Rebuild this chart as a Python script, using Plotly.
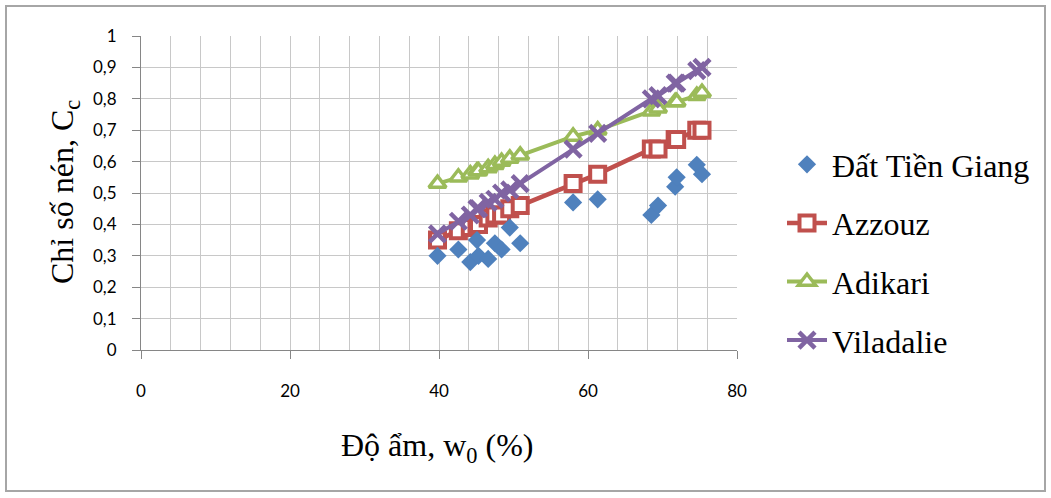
import plotly.graph_objects as go

# Moisture content w0 (%)
w0 = [39.8, 42.6, 44.2, 45.1, 45.3, 46.6, 47.5, 48.4, 49.5, 50.9,
      58.0, 61.3, 68.5, 69.4, 71.7, 71.9, 74.6, 75.3]

# Measured compression index (Đất Tiền Giang)
cc_tien_giang = [0.30, 0.32, 0.28, 0.35, 0.30, 0.29, 0.34, 0.32, 0.39, 0.34,
                 0.47, 0.48, 0.43, 0.46, 0.52, 0.55, 0.59, 0.56]
# Correlations
cc_azzouz = [0.35, 0.38, 0.39, 0.40, 0.40, 0.42, 0.43, 0.43, 0.45, 0.46,
             0.53, 0.56, 0.64, 0.64, 0.67, 0.67, 0.70, 0.70]
cc_adikari = [0.53, 0.55, 0.56, 0.57, 0.57, 0.58, 0.59, 0.60, 0.61, 0.62,
              0.68, 0.70, 0.76, 0.77, 0.79, 0.79, 0.81, 0.82]
cc_viladalie = [0.37, 0.41, 0.43, 0.45, 0.45, 0.47, 0.48, 0.50, 0.51, 0.53,
                0.64, 0.69, 0.80, 0.81, 0.85, 0.85, 0.89, 0.90]

series_names = ["Đất Tiền Giang", "Azzouz", "Adikari", "Viladalie"]
x_title = "Độ ẩm, w<sub>0</sub> (%)"
y_title = "Chỉ số nén, C<sub>c</sub>"

x_ticks = [0, 20, 40, 60, 80]
y_ticks = [0, 0.1, 0.2, 0.3, 0.4, 0.5, 0.6, 0.7, 0.8, 0.9, 1.0]
y_tick_text = ["0", "0,1", "0,2", "0,3", "0,4", "0,5", "0,6", "0,7", "0,8", "0,9", "1"]

BLUE, RED, GREEN, PURPLE = "#4F81BD", "#C0504D", "#9BBB59", "#8064A2"
SERIF = '"Liberation Serif", "Times New Roman", serif'
SANS = 'Lato, Carlito, Calibri, sans-serif'

fig = go.Figure()

fig.add_trace(go.Scatter(
    x=w0, y=cc_azzouz, name=series_names[1], mode="lines+markers",
    legendgroup="b", legendrank=2,
    line=dict(color=RED, width=4.5),
    marker=dict(symbol="square", size=15, color="white",
                line=dict(color=RED, width=4)),
))
fig.add_trace(go.Scatter(
    x=w0, y=cc_adikari, name=series_names[2], mode="lines+markers",
    legendgroup="c", legendrank=3,
    line=dict(color=GREEN, width=4),
    marker=dict(symbol="triangle-up", size=15, color="white",
                line=dict(color=GREEN, width=3.5)),
))
fig.add_trace(go.Scatter(
    x=w0, y=cc_viladalie, name=series_names[3], mode="lines+markers",
    legendgroup="d", legendrank=4,
    line=dict(color=PURPLE, width=4),
    marker=dict(symbol="x-thin", size=16, color=PURPLE,
                line=dict(color=PURPLE, width=4.5)),
))
fig.add_trace(go.Scatter(
    x=w0, y=cc_tien_giang, name=series_names[0], mode="markers",
    legendgroup="a", legendrank=1,
    marker=dict(symbol="diamond", size=14, color=BLUE, line=dict(width=0)),
))

L, R, T, B = 141, 737, 36, 350
W, H = 1051, 498
pw, ph = R - L, B - T

def px_to_paper_x(px):
    return (px - L) / pw

def px_to_paper_y(py):
    return (B - py) / ph

fig.update_layout(
    width=W, height=H,
    margin=dict(l=L, r=W - R, t=T, b=H - B, pad=0),
    paper_bgcolor="white", plot_bgcolor="white",
    showlegend=True,
    legend=dict(
        x=px_to_paper_x(782), y=px_to_paper_y(137),
        xanchor="left", yanchor="top",
        font=dict(family=SERIF, size=32, color="black"),
        tracegroupgap=14, itemwidth=40,
        bgcolor="rgba(0,0,0,0)",
    ),
    xaxis=dict(
        range=[0, 80], tickvals=x_ticks, ticktext=[str(v) for v in x_ticks],
        showgrid=False, zeroline=False,
        showline=True, linecolor="#868686", linewidth=1,
        ticks="outside", ticklen=8, tickcolor="#868686",
        ticklabelstandoff=18,
        tickfont=dict(family=SANS, size=17, color="black"),
        minor=dict(dtick=4, showgrid=True, gridcolor="#C8C8C8", gridwidth=1, ticks=""),
        fixedrange=True,
    ),
    yaxis=dict(
        range=[0, 1], tickvals=y_ticks, ticktext=y_tick_text,
        showgrid=True, gridcolor="#C8C8C8", gridwidth=1, zeroline=False,
        showline=True, linecolor="#868686", linewidth=1,
        ticks="outside", ticklen=8, tickcolor="#868686",
        ticklabelstandoff=12,
        tickfont=dict(family=SANS, size=17, color="black"),
        fixedrange=True,
    ),
    annotations=[
        dict(text=x_title, xref="paper", yref="paper",
             x=px_to_paper_x(437), y=px_to_paper_y(447),
             xanchor="center", yanchor="middle", showarrow=False,
             font=dict(family=SERIF, size=32, color="black")),
        dict(text=y_title, xref="paper", yref="paper",
             x=px_to_paper_x(64), y=px_to_paper_y(192), textangle=-90,
             xanchor="center", yanchor="middle", showarrow=False,
             font=dict(family=SERIF, size=32, color="black")),
    ],
    shapes=[dict(
        type="rect", xref="paper", yref="paper",
        x0=px_to_paper_x(6), x1=px_to_paper_x(1045),
        y0=px_to_paper_y(491), y1=px_to_paper_y(6),
        line=dict(color="#A6A6A6", width=2), fillcolor="rgba(0,0,0,0)", layer="below",
    )],
)

fig.write_html("out.html")
